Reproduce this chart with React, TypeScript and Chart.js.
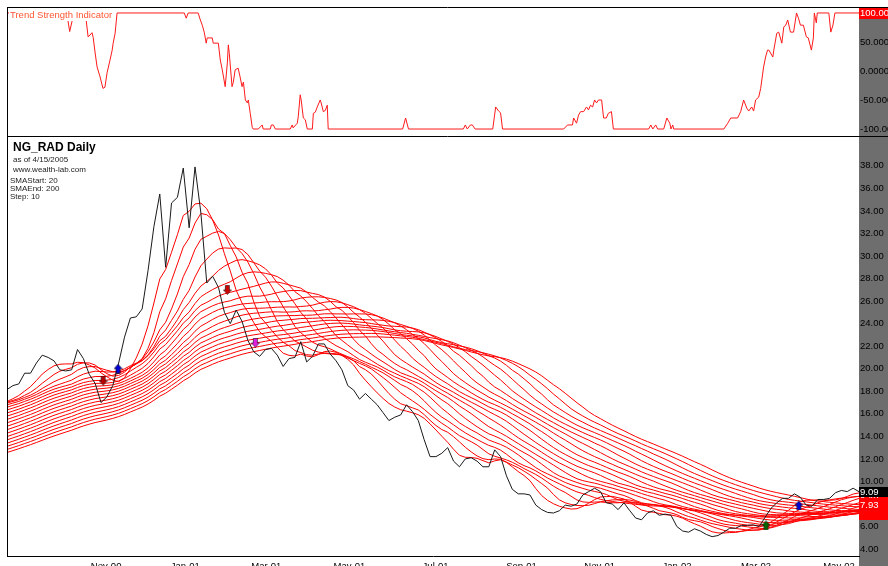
import React, { useEffect, useRef } from "react";
import { Chart, registerables } from "chart.js";

Chart.register(...registerables);

const FONT = '"Liberation Sans", Arial, sans-serif';
const GREY = "#6e6e6e";

// one price sample every STEP_DAYS trading days; x axis is in trading days
const STEP_DAYS = 3;
const LAST_DAY = 435;

// closes before the visible window (needed by the long moving averages)
const priceBefore = [
  7.2, 7.3, 7.4, 7.5, 7.6, 7.8, 7.9, 8.0, 8.1, 8.3,
  8.4, 8.5, 8.7, 8.8, 9.0, 9.1, 9.3, 9.4, 9.6, 9.7,
  9.9, 10.1, 10.2, 10.4, 10.6, 10.8, 10.9, 11.1, 11.3, 11.5,
  11.7, 11.9, 12.1, 12.3, 12.5, 12.7, 12.9, 13.1, 13.3, 13.5,
  13.7, 13.9, 14.1, 14.3, 14.5, 14.7, 14.9, 15.1, 15.3, 15.5,
  15.7, 15.9, 16.1, 16.3, 16.4, 16.6, 16.7, 16.9, 17.0, 16.9,
  16.8, 17.0, 16.7, 16.9, 17.1, 16.8, 17.0,
];

// visible closes
const price = [
  18.15, 18.5, 18.65, 19.6, 19.6, 20.5, 21.2, 21.0, 20.7, 19.9,
  19.8, 19.9, 21.7, 20.9, 19.5, 18.7, 17.0, 17.5, 18.5, 20.5,
  22.8, 24.5, 24.6, 25.3, 28.7, 32.6, 35.5, 29.0, 34.7, 35.2,
  37.8, 32.5, 37.9, 33.8, 27.6, 28.2, 27.2, 25.0, 24.0, 25.2,
  24.2, 22.5, 21.5, 21.1, 21.7, 21.8, 21.2, 20.2, 20.9, 21.0,
  22.4, 20.6, 21.1, 22.2, 22.2, 21.3, 20.7, 19.9, 18.5, 18.1,
  17.3, 17.8, 17.3, 16.8, 16.1, 15.4, 15.7, 15.9, 16.8, 16.2,
  15.4, 13.7, 12.2, 12.2, 12.5, 13.0, 11.8, 11.3, 12.0, 12.1,
  11.8, 11.3, 11.3, 12.8, 12.2, 10.5, 9.3, 8.9, 8.9, 8.8,
  7.9, 7.5, 7.25, 7.2, 7.4, 7.9, 7.8, 8.0, 8.8, 9.1,
  9.4, 9.1, 8.1, 8.0, 7.5, 8.1, 7.4, 6.75, 6.6, 7.2,
  7.4, 7.0, 7.1, 7.0, 6.0, 5.6, 5.5, 5.8, 5.6, 5.3,
  5.1, 5.2, 5.5, 5.85, 5.85, 6.1, 6.1, 6.15, 6.0, 6.8,
  7.6, 8.1, 8.5, 8.5, 8.9, 8.6, 7.9, 7.8, 8.4, 8.4,
  8.5, 9.0, 9.2, 9.1, 9.4, 9.09,
];

const smaPeriods = [20, 30, 40, 50, 60, 70, 80, 90, 100, 110, 120, 130, 140, 150, 160, 170, 180, 190, 200];

const monthTickDays = [50.6, 91.0, 132.4, 174.8, 218.8, 262.7, 302.6, 342.1, 382.4, 424.8];
const monthTickLabels = ["Nov-00", "Jan-01", "Mar-01", "May-01", "Jul-01", "Sep-01", "Nov-01", "Jan-02", "Mar-02", "May-02"];
const priceTicks = [4, 6, 8, 10, 12, 14, 16, 18, 20, 22, 24, 26, 28, 30, 32, 34, 36, 38];
const tsiTicks = [100, 50, 0, -50, -100];

// Trend Strength Indicator (trading day, value)
const tsiDays = [
  0, 30.5, 32, 33.5, 35, 40, 41.4, 42.4, 43.4, 44, 45, 46, 47.5, 49, 50, 51.1, 52.6, 53.7, 54.2, 55.2, 56.2,
  90.5, 91.5, 92.5, 97.6, 98.7, 99.7, 100.7, 101.7, 102.2, 104.8, 105.3, 107.9, 108.9, 109.9, 111.4, 112.5, 113,
  113.5, 114.9, 115.5, 116.5, 118, 119, 120, 120.7, 121.7, 122.7, 123.2, 124.2, 125.2, 125.7, 128.3, 130.3, 130.8,
  134.4, 135, 136, 137, 144.6, 145.6, 146.1, 148.2, 148.7, 149.7, 150.2, 151.3, 152.3, 153.3, 155.9, 156.4, 157.4,
  158.4, 159.9, 160.4, 161.5, 162.5, 163.5, 164, 202, 203.5, 205, 233, 234, 235, 236.6, 237.6, 239, 248, 249.5,
  251, 252, 253, 284.2, 286.2, 288.7, 289.3, 290.8, 291.8, 292.9, 294.4, 295.9, 296.9, 297.9, 299, 300, 301, 302,
  303.6, 304.6, 306, 307, 308.6, 309.6, 327.6, 328.7, 329.7, 331.2, 332.2, 335.3, 336.9, 338.4, 339, 339.9, 340.4,
  366, 368, 369.5, 373, 374.6, 376.1, 377.7, 378.7, 380.2, 381.2, 382.2, 383.8, 384.8, 386.3, 387.3, 388.3, 389,
  391, 391.5, 393, 394, 395.6, 396.6, 397.6, 398.6, 400, 401.6, 403.1, 404.1, 405.1, 406.6, 408.1, 409.1, 410.7,
  411.7, 412.2, 413.2, 413.7, 419.6, 420.6, 421.7, 422.7, 435,
];
const tsiValues = [
  100, 100, 68, 90, 100, 100, 59, 62, 66, 58, 31, 7, -10, -30, -28, -3, 19, 36, 48, 65, 100,
  100, 91, 100, 100, 88, 79, 67, 48, 57, 57, 48, 48, 19, 2, -27, 14, 45,
  30, -27, -20, 2, 5, -10, -27, -19, -50, -55, -50, -73, -97, -100, -100, -93, -100,
  -100, -93, -93, -100, -100, -93, -98, -90, -79, -41, -50, -81, -84, -100, -100, -73, -71,
  -62, -50, -55, -70, -68, -59, -100, -100, -81, -100, -100, -93, -100, -93, -93, -100, -100, -62,
  -69, -72, -100, -100, -93, -93, -81, -90, -76, -70, -70, -62, -67, -59, -62, -50, -55, -50,
  -50, -81, -81, -73, -70, -100, -100, -93, -100, -93, -100, -100, -81, -90, -100, -93, -100,
  -100, -90, -81, -81, -70, -50, -64, -69, -62, -69, -50, -45, -30, 7, 24, 36, 36,
  24, 36, 65, 67, 48, 76, 79, 88, 67, 67, 100, 91, 79, 79, 59, 57, 36,
  57, 100, 83, 100, 100, 67, 79, 100, 100,
];

// trade signal arrows
const signalDays = [49.1, 56.7, 112.5, 126.8, 387.5, 404.3];
const signalValues = [18.94, 20.0, 27.0, 22.3, 6.1, 7.87];
const signalDirections = ["down", "up", "down", "down", "up", "up"];
const signalColors = ["#b80000", "#0000d8", "#d00000", "#e020e0", "#006a00", "#0000d8"];

function computeSma(periodDays: number) {
  const all = [...priceBefore, ...price];
  const off = priceBefore.length;
  const w = periodDays / STEP_DAYS;
  const full = Math.floor(w);
  const frac = w - full;
  return price.map((_, i) => {
    const j = i + off;
    let s = 0;
    for (let k = 0; k < full; k++) s += all[j - k];
    if (frac > 1e-9) s += frac * all[j - full];
    return { x: i * STEP_DAYS, y: s / w };
  });
}

function makeArrow(color: string, dir: string) {
  const c = document.createElement("canvas");
  c.width = 9;
  c.height = 10;
  const g = c.getContext("2d")!;
  g.save();
  if (dir === "up") {
    g.translate(0, 10);
    g.scale(1, -1);
  }
  g.beginPath();
  g.moveTo(2.5, 0.5);
  g.lineTo(6.5, 0.5);
  g.lineTo(6.5, 5.0);
  g.lineTo(8.5, 5.0);
  g.lineTo(4.5, 9.5);
  g.lineTo(0.5, 5.0);
  g.lineTo(2.5, 5.0);
  g.closePath();
  g.fillStyle = color;
  g.fill();
  g.strokeStyle = "rgba(0,0,0,0.55)";
  g.lineWidth = 1;
  g.stroke();
  g.restore();
  return c;
}

export default function App() {
  const topRef = useRef<HTMLCanvasElement>(null);
  const botRef = useRef<HTMLCanvasElement>(null);

  useEffect(() => {
    const topPlugin = {
      id: "topDecor",
      beforeDraw(chart: any) {
        const { ctx, chartArea, width, height } = chart;
        ctx.save();
        ctx.fillStyle = "#fff";
        ctx.fillRect(0, 0, width, height);
        ctx.fillStyle = GREY;
        ctx.fillRect(chartArea.right, 8, width - chartArea.right, height - 8);
        ctx.restore();
      },
      afterDatasetsDraw(chart: any) {
        const { ctx } = chart;
        ctx.save();
        ctx.fillStyle = "#fff";
        ctx.fillRect(9, 9, 102, 12);
        ctx.fillStyle = "#ff5533";
        ctx.font = `9.5px ${FONT}`;
        ctx.textBaseline = "middle";
        ctx.fillText("Trend Strength Indicator", 10, 15.5);
        ctx.restore();
      },
      afterDraw(chart: any) {
        const { ctx, chartArea, width, height } = chart;
        ctx.save();
        ctx.strokeStyle = "#000";
        ctx.lineWidth = 1;
        ctx.beginPath();
        ctx.moveTo(7, 7.5);
        ctx.lineTo(width, 7.5);
        ctx.moveTo(7.5, 7);
        ctx.lineTo(7.5, height);
        ctx.stroke();
        const ys = chart.scales.y;
        const last = tsiValues[tsiValues.length - 1];
        const py = Math.round(ys.getPixelForValue(last));
        ctx.fillStyle = "#ff0000";
        ctx.fillRect(chartArea.right, py - 5, width - chartArea.right, 11);
        ctx.fillStyle = "#fff";
        ctx.font = `9.5px ${FONT}`;
        ctx.textBaseline = "middle";
        ctx.fillText(last.toFixed(2), chartArea.right + 1, py + 0.5);
        ctx.restore();
      },
    };

    const smaSeries = smaPeriods.map((p) => computeSma(p));

    const botPlugin = {
      id: "botDecor",
      beforeDraw(chart: any) {
        const { ctx, chartArea, width, height } = chart;
        ctx.save();
        ctx.fillStyle = "#fff";
        ctx.fillRect(0, 0, width, height);
        ctx.fillStyle = GREY;
        ctx.fillRect(chartArea.right, 0, width - chartArea.right, height);
        ctx.restore();
      },
      afterDraw(chart: any) {
        const { ctx, chartArea, width } = chart;
        ctx.save();
        ctx.strokeStyle = "#000";
        ctx.lineWidth = 1;
        ctx.beginPath();
        ctx.moveTo(7, 0.5);
        ctx.lineTo(width, 0.5);
        ctx.moveTo(7.5, 0);
        ctx.lineTo(7.5, chartArea.bottom);
        ctx.stroke();

        ctx.fillStyle = "#000";
        ctx.textBaseline = "middle";
        ctx.font = `bold 12px ${FONT}`;
        ctx.fillText("NG_RAD Daily", 13, 12);
        ctx.fillStyle = "#222";
        ctx.font = `8px ${FONT}`;
        ctx.fillText("as of 4/15/2005", 13, 24);
        ctx.fillText("www.wealth-lab.com", 13, 33.5);
        ctx.fillText("SMAStart: 20", 10, 45);
        ctx.fillText("SMAEnd: 200", 10, 53);
        ctx.fillText("Step: 10", 10, 61);

        const ys = chart.scales.y;
        ctx.font = `9.5px ${FONT}`;
        smaSeries.forEach((s) => {
          const v = s[s.length - 1].y;
          const py = Math.round(ys.getPixelForValue(v));
          ctx.fillStyle = "#ff0000";
          ctx.fillRect(chartArea.right, py - 5, width - chartArea.right, 11);
          ctx.fillStyle = "#fff";
          ctx.fillText(v.toFixed(2), chartArea.right + 1, py + 0.5);
        });
        const lastP = price[price.length - 1];
        const pp = Math.round(ys.getPixelForValue(lastP));
        ctx.fillStyle = "#000";
        ctx.fillRect(chartArea.right, pp - 5, width - chartArea.right, 10);
        ctx.fillStyle = "#fff";
        ctx.fillText(lastP.toFixed(2), chartArea.right + 1, pp);
        ctx.restore();
      },
    };

    const arrowImgs = signalDays.map((_, i) => makeArrow(signalColors[i], signalDirections[i]));

    const topChart = new Chart(topRef.current as HTMLCanvasElement, {
      type: "line",
      data: {
        datasets: [
          {
            data: tsiDays.map((d, i) => ({ x: d, y: tsiValues[i] })),
            borderColor: "#ff1a1a",
            borderWidth: 1,
            pointRadius: 0,
            tension: 0,
          },
        ],
      },
      options: {
        responsive: false,
        animation: false,
        devicePixelRatio: 1,
        events: [],
        layout: { padding: { left: 7, top: 7, right: 0, bottom: 1 } },
        plugins: { legend: { display: false }, tooltip: { enabled: false } },
        scales: {
          x: { type: "linear", min: 0, max: LAST_DAY, display: false },
          y: {
            type: "linear",
            position: "right",
            min: -110.3,
            max: 110.3,
            afterBuildTicks: (s: any) => {
              s.ticks = tsiTicks.map((v) => ({ value: v }));
            },
            afterFit: (s: any) => {
              s.width = 29;
              s.paddingTop = 0;
              s.paddingBottom = 0;
            },
            grid: { display: false, drawTicks: false },
            border: { display: false },
            ticks: {
              padding: 1,
              color: "#000",
              font: { family: FONT, size: 9.5 },
              callback: (v: any) => Number(v).toFixed(6),
            },
          },
        },
      } as any,
      plugins: [topPlugin],
    });

    const botChart = new Chart(botRef.current as HTMLCanvasElement, {
      type: "line",
      data: {
        datasets: [
          {
            data: signalDays.map((d, i) => ({ x: d, y: signalValues[i] })),
            showLine: false,
            pointStyle: arrowImgs as any,
            pointRadius: 5,
            borderWidth: 0,
          },
          {
            data: price.map((v, i) => ({ x: i * STEP_DAYS, y: v })),
            borderColor: "#1a1a1a",
            borderWidth: 1,
            pointRadius: 0,
            tension: 0,
          },
          ...smaSeries.map((s) => ({
            data: s,
            borderColor: "#ff0000",
            borderWidth: 1,
            pointRadius: 0,
            tension: 0,
          })),
        ],
      },
      options: {
        responsive: false,
        animation: false,
        devicePixelRatio: 1,
        events: [],
        layout: { padding: { left: 7, top: 1, right: 0, bottom: 0 } },
        plugins: { legend: { display: false }, tooltip: { enabled: false } },
        scales: {
          x: {
            type: "linear",
            position: "bottom",
            min: 0,
            max: LAST_DAY,
            afterBuildTicks: (s: any) => {
              s.ticks = monthTickDays.map((v) => ({ value: v }));
            },
            afterFit: (s: any) => {
              s.height = 10;
              s.paddingLeft = 0;
              s.paddingRight = 0;
            },
            grid: { display: false, drawTicks: false },
            border: { display: true, color: "#000", width: 1 },
            ticks: {
              autoSkip: false,
              maxRotation: 0,
              padding: 5,
              color: "#000",
              font: { family: FONT, size: 9.5 },
              callback: (_v: any, i: number) => monthTickLabels[i],
            },
          },
          y: {
            type: "linear",
            position: "right",
            min: 3.385,
            max: 40.2,
            afterBuildTicks: (s: any) => {
              s.ticks = priceTicks.map((v) => ({ value: v }));
            },
            afterFit: (s: any) => {
              s.width = 29;
              s.paddingTop = 0;
              s.paddingBottom = 0;
            },
            grid: { display: false, drawTicks: false },
            border: { display: false },
            ticks: {
              padding: 1,
              color: "#000",
              font: { family: FONT, size: 9.5 },
              callback: (v: any) => Number(v).toFixed(2),
            },
          },
        },
      } as any,
      plugins: [botPlugin],
    });

    return () => {
      topChart.destroy();
      botChart.destroy();
    };
  }, []);

  return (
    <div style={{ position: "fixed", left: 0, top: 0, width: 888, height: 566, background: "#fff", overflow: "hidden" }}>
      <canvas ref={topRef} width={888} height={136} style={{ position: "absolute", left: 0, top: 0, width: 888, height: 136 }} />
      <canvas ref={botRef} width={888} height={430} style={{ position: "absolute", left: 0, top: 136, width: 888, height: 430 }} />
    </div>
  );
}
